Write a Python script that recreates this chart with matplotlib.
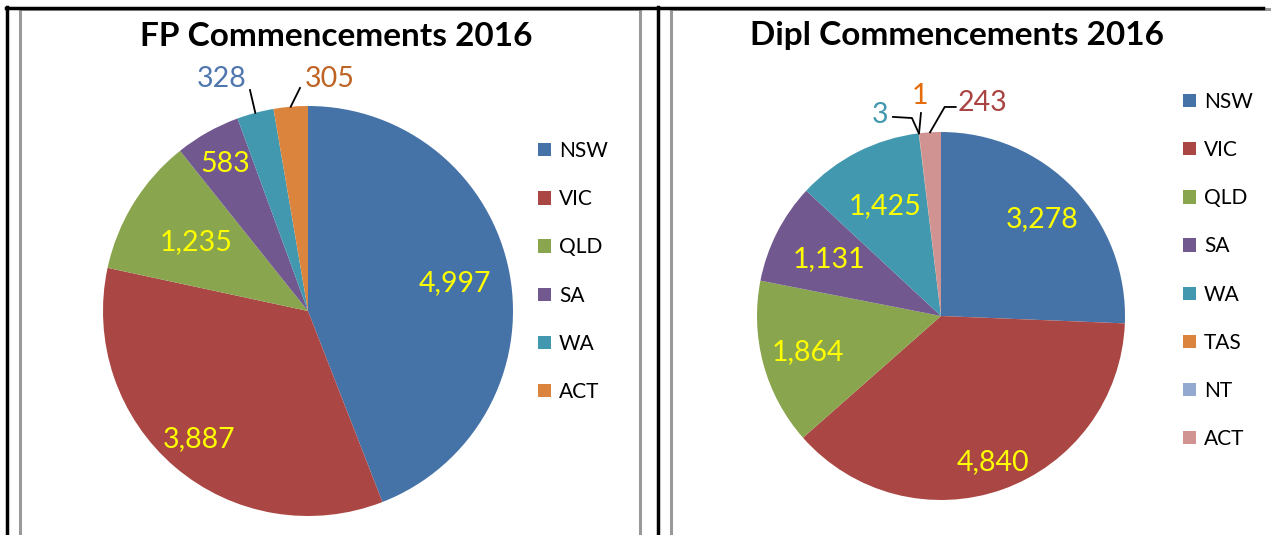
import numpy as np
import matplotlib
matplotlib.use('Agg')
from matplotlib import pyplot as plt
from matplotlib.patches import Rectangle
from matplotlib.lines import Line2D

plt.rcParams['font.family'] = ['Lato', 'DejaVu Sans']

# Data
fp_states = ['NSW', 'VIC', 'QLD', 'SA', 'WA', 'ACT']
fp_values = [4997, 3887, 1235, 583, 328, 305]
fp_colors = ['#4572A7', '#AA4643', '#89A54E', '#71588F', '#4198AF', '#DB843D']

dipl_states = ['NSW', 'VIC', 'QLD', 'SA', 'WA', 'TAS', 'NT', 'ACT']
dipl_values = [3278, 4840, 1864, 1131, 1425, 3, 1, 243]
dipl_colors = ['#4572A7', '#AA4643', '#89A54E', '#71588F', '#4198AF',
               '#DB843D', '#93A9CF', '#D19392']

W, H = 1271, 535
fig = plt.figure(figsize=(W / 100, H / 100), dpi=100)


def fx(px):
    return px / W


def fy(py):
    return 1 - py / H


# table frame (black) and chart borders (grey)
for x0, x1 in [(20, 640), (671, 1290)]:
    fig.add_artist(Rectangle((fx(x0), fy(560)), fx(x1 - x0), (560 - 9) / H,
                             fill=False, ec='#999999', lw=2.2))
fig.add_artist(Line2D([fx(6), fx(1263)], [fy(7.5), fy(7.5)], color='black', lw=2.5))
fig.add_artist(Line2D([fx(7), fx(7)], [fy(7), 0], color='black', lw=2.5))
fig.add_artist(Line2D([fx(658), fx(658)], [fy(7), 0], color='black', lw=2.5))


def fmt(v):
    return f'{v:,}'


def draw_pie(cx, cy, r, values, colors, inner_r, outside):
    ax = fig.add_axes([fx(cx - r), fy(cy + r), fx(2 * r), 2 * r / H])
    wedges, _ = ax.pie(values, colors=colors, startangle=90, counterclock=False,
                       radius=1, wedgeprops=dict(linewidth=0))
    ax.set_xlim(-1, 1)
    ax.set_ylim(-1, 1)
    ax.set_aspect('equal')
    ax.axis('off')
    for i, (w, v) in enumerate(zip(wedges, values)):
        ang = np.deg2rad((w.theta1 + w.theta2) / 2)
        if i in outside:
            # outside label with leader line to the slice edge
            (tx, ty), col, path = outside[i]
            ex, ey = np.cos(ang), np.sin(ang)
            xs = [p[0] for p in path] + [ex]
            ys = [p[1] for p in path] + [ey]
            ax.plot(xs, ys, color='black', lw=1.3, clip_on=False)
            ax.text(tx, ty, fmt(v), color=col, fontsize=20.5, ha='center', va='center')
        else:
            d = inner_r[i]
            ax.text(d * np.cos(ang), d * np.sin(ang), fmt(v), color='#FFFF00',
                    fontsize=20.5, ha='center', va='center')
    return ax, wedges


legend_kw = dict(loc='center left', frameon=False, fontsize=15,
                 handlelength=0.6, handleheight=0.6, handletextpad=0.4,
                 labelspacing=1.35, borderpad=0, borderaxespad=0)

# FP chart
ax1, w1 = draw_pie(308, 311, 205, fp_values, fp_colors,
                   {0: 0.73, 1: 0.82, 2: 0.64, 3: 0.82},
                   {4: ((-0.42, 1.13), '#4F76AE', [(-0.283, 1.078)]),
                    5: ((0.107, 1.13), '#BD6424', [(-0.039, 1.088)])})
fig.text(fx(336), fy(36), 'FP Commencements 2016', fontsize=24,
         fontweight='bold', ha='center', va='center')
fig.legend(w1, fp_states, bbox_to_anchor=(fx(538), fy(271.5)), **legend_kw)

# Dipl chart
ax2, w2 = draw_pie(941, 316, 184, dipl_values, dipl_colors,
                   {0: 0.76, 1: 0.84, 2: 0.75, 3: 0.68, 4: 0.67},
                   {5: ((-0.332, 1.09), '#4198AF', [(-0.261, 1.082), (-0.158, 1.076)]),
                    6: ((-0.114, 1.195), '#E46C0A', [(-0.109, 1.103)]),
                    7: ((0.228, 1.16), '#A94442', [(0.08, 1.136), (0.02, 1.136)])})
fig.text(fx(957), fy(36), 'Dipl Commencements 2016', fontsize=24,
         fontweight='bold', ha='center', va='center')
fig.legend(w2, dipl_states, bbox_to_anchor=(fx(1183), fy(270.5)), **legend_kw)

fig.savefig('out.png', dpi=100)
